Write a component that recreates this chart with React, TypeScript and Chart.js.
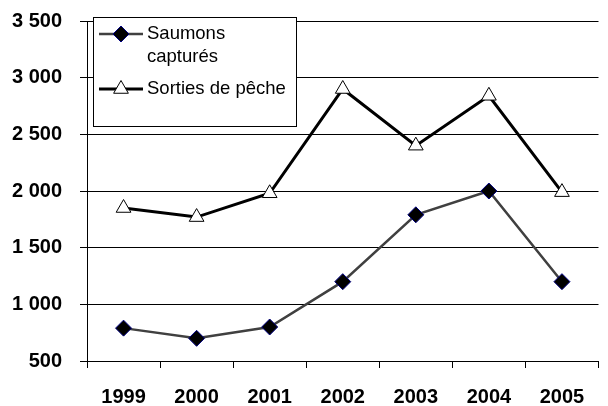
import React, { useEffect, useRef } from 'react';
import { Chart, registerables } from 'chart.js';
import { drawPoint } from 'chart.js/helpers';

Chart.register(...registerables);

const years = ['1999', '2000', '2001', '2002', '2003', '2004', '2005'];
const saumonsCaptures = [790, 700, 800, 1200, 1790, 2000, 1200];
const sortiesDePeche = [1850, 1770, 1980, 2900, 2400, 2840, 1990];
const yMin = 500;
const yMax = 3500;
const yStep = 500;
const legendLines = [['Saumons', 'capturés'], ['Sorties de pêche']];

const FONT = "'Liberation Sans', Arial, Helvetica, sans-serif";

const boxLegend = {
  id: 'boxLegend',
  afterDraw(chart: any) {
    const ctx = chart.ctx as CanvasRenderingContext2D;
    ctx.save();
    const x0 = 93, y0 = 17, x1 = 296, y1 = 126;
    ctx.fillStyle = '#ffffff';
    ctx.fillRect(x0, y0, x1 - x0, y1 - y0);
    ctx.strokeStyle = '#000000';
    ctx.lineWidth = 1;
    ctx.strokeRect(x0 + 0.5, y0 + 0.5, x1 - x0, y1 - y0);

    const rows = [
      { lineY: 34, baselines: [39, 62] },
      { lineY: 89, baselines: [94] },
    ];
    chart.data.datasets.forEach((ds: any, i: number) => {
      const r = rows[i];
      ctx.beginPath();
      ctx.strokeStyle = ds.borderColor;
      ctx.lineWidth = ds.borderWidth;
      ctx.moveTo(99, r.lineY);
      ctx.lineTo(143, r.lineY);
      ctx.stroke();
      ctx.fillStyle = ds.pointBackgroundColor;
      ctx.strokeStyle = ds.pointBorderColor;
      ctx.lineWidth = ds.pointBorderWidth;
      drawPoint(ctx, {
        pointStyle: ds.pointStyle,
        rotation: 0,
        radius: ds.pointRadius,
        borderWidth: ds.pointBorderWidth,
      } as any, 121, r.lineY);
      ctx.fillStyle = '#000000';
      ctx.font = `18.5px ${FONT}`;
      ctx.textAlign = 'left';
      ctx.textBaseline = 'alphabetic';
      legendLines[i].forEach((t, k) => ctx.fillText(t, 147, r.baselines[k]));
    });
    ctx.restore();
  },
};

export default function App() {
  const ref = useRef<HTMLCanvasElement | null>(null);
  useEffect(() => {
    if (!ref.current) return;
    const chart = new Chart(ref.current, {
      type: 'line',
      data: {
        labels: years,
        datasets: [
          {
            label: 'Saumons capturés',
            data: saumonsCaptures,
            borderColor: '#404040',
            borderWidth: 2.5,
            pointStyle: 'rectRot',
            pointRadius: 8,
            pointBackgroundColor: '#000000',
            pointBorderColor: '#000080',
            pointBorderWidth: 1,
            tension: 0,
          },
          {
            label: 'Sorties de pêche',
            data: sortiesDePeche,
            borderColor: '#000000',
            borderWidth: 3,
            pointStyle: 'triangle',
            pointRadius: 8.5,
            pointBackgroundColor: '#ffffff',
            pointBorderColor: '#000000',
            pointBorderWidth: 1,
            tension: 0,
          },
        ],
      },
      options: {
        responsive: false,
        animation: false,
        layout: { padding: { top: 21, right: 3, left: 0, bottom: 0 } },
        plugins: {
          legend: { display: false },
          tooltip: { enabled: false },
        },
        scales: {
          x: {
            type: 'category',
            offset: true,
            afterFit: (s: any) => { s.height = 45; s.paddingLeft = 0; s.paddingRight = 0; },
            grid: {
              offset: true,
              drawOnChartArea: false,
              drawTicks: true,
              tickLength: 7,
              color: '#000000',
            },
            border: { display: true, color: '#000000', width: 1 },
            ticks: {
              color: '#000000',
              padding: 17,
              maxRotation: 0,
              font: { family: FONT, size: 20, weight: 'bold' },
            },
          },
          y: {
            min: yMin,
            max: yMax,
            afterFit: (s: any) => { s.width = 87; s.paddingTop = 0; s.paddingBottom = 0; },
            grid: {
              drawOnChartArea: true,
              drawTicks: true,
              tickLength: 7,
              color: '#000000',
            },
            border: { display: true, color: '#000000', width: 1 },
            ticks: {
              stepSize: yStep,
              color: '#000000',
              padding: 18,
              font: { family: FONT, size: 20, weight: 'bold' },
              callback: (v: any) => {
                const n = Number(v);
                return n >= 1000 ? `${Math.floor(n / 1000)} ${String(n % 1000).padStart(3, '0')}` : String(n);
              },
            },
          },
        },
      },
      plugins: [boxLegend],
    } as any);
    return () => chart.destroy();
  }, []);
  return (
    <div style={{ position: 'fixed', left: 0, top: 0, width: 608, height: 406, background: '#ffffff' }}>
      <canvas ref={ref} width={608} height={406} style={{ display: 'block' }} />
    </div>
  );
}
